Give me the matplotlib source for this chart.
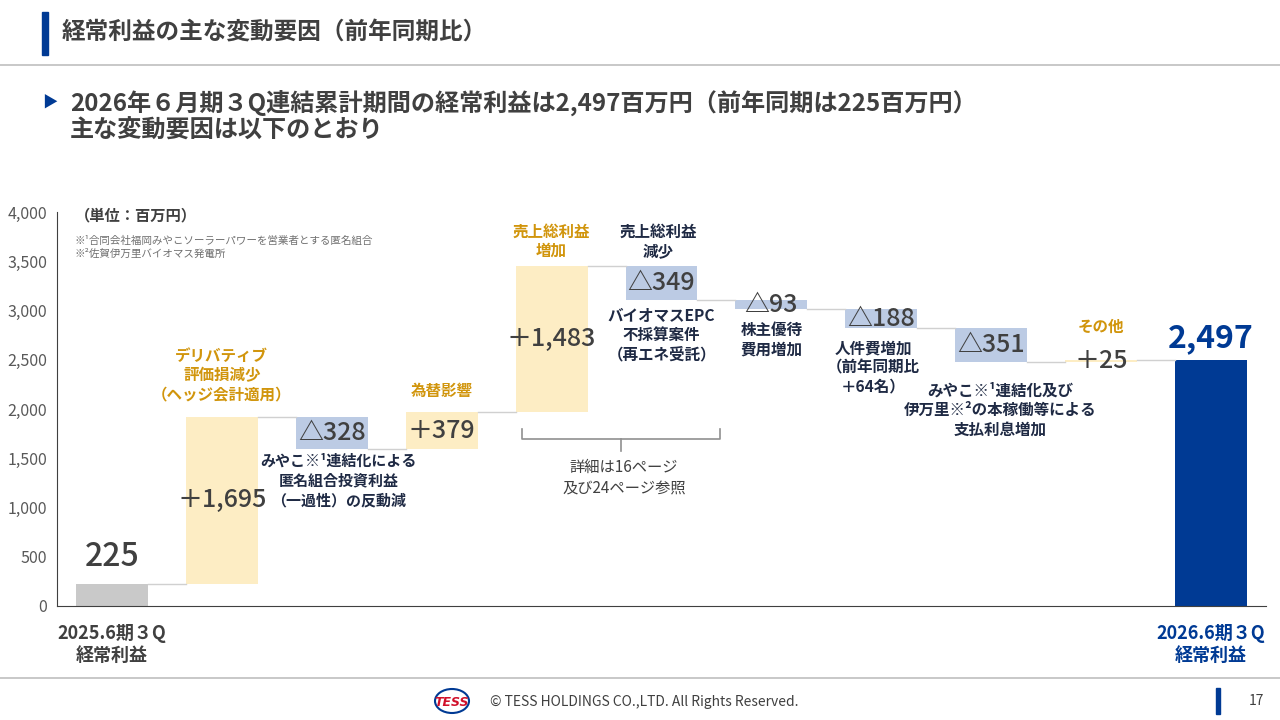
import numpy as np
import matplotlib
matplotlib.use("Agg")
import matplotlib.pyplot as plt
from matplotlib.patches import Rectangle, Ellipse

plt.rcParams['font.family'] = ['Noto Sans CJK JP', 'DejaVu Sans']

# data (百万円)
start_value = 225
deltas = [1695, -328, 379, 1483, -349, -93, -188, -351, 25]
end_value = 2497
value_labels = ['225', '＋1,695', '△328', '＋379', '＋1,483', '△349', '△93', '△188', '△351', '＋25', '2,497']
yticks = [0, 500, 1000, 1500, 2000, 2500, 3000, 3500, 4000]
xlabels = ['2025.6期３Q\n経常利益', '2026.6期３Q\n経常利益']

GRAY = '#c9c9c9'
UP = '#fdedc4'
DOWN = '#bccbe4'
BLUE = '#003a94'
DARK = '#404040'
NAVY = '#1f2a44'
GOLD = '#d1950c'

fig = plt.figure(figsize=(12.8, 7.2), dpi=100)
ax = fig.add_axes([57 / 1280, 1 - 606 / 720, (1266 - 57) / 1280, 394 / 720])

levels = np.concatenate([[start_value], start_value + np.cumsum(deltas)])
n = len(deltas) + 2
x = np.arange(n)
w = 0.655

# start / end bars
ax.bar(x[0], start_value, width=w, color=GRAY)
ax.bar(x[-1], end_value, width=w, color=BLUE)
# floating bars
for i, d in enumerate(deltas):
    lo = levels[i] if d > 0 else levels[i + 1]
    ax.bar(x[i + 1], abs(d), bottom=lo, width=w, color=UP if d > 0 else DOWN)
# connectors
for i in range(n - 1):
    ax.plot([x[i] + w / 2, x[i + 1] - w / 2], [levels[min(i, len(levels) - 1)]] * 2,
            color='#d0d0d0', lw=1)

# value labels
ax.text(x[0], start_value + 110, value_labels[0], ha='center', va='bottom',
        fontsize=23, color=DARK, fontweight='medium')
ax.text(x[-1], end_value + 60, value_labels[-1], ha='center', va='bottom',
        fontsize=23, color=BLUE, fontweight='bold')
for i, d in enumerate(deltas):
    mid = (levels[i] + levels[i + 1]) / 2
    ax.text(x[i + 1], mid, value_labels[i + 1], ha='center', va='center',
            fontsize=18, color=DARK, fontweight='medium')

ax.set_xlim(-0.5, n - 0.5)
ax.set_ylim(0, 4000)
ax.set_yticks(yticks)
ax.set_yticklabels([f'{v:,}' for v in yticks], fontsize=11.5, color='#595959')
ax.tick_params(axis='y', length=0, pad=7)
ax.set_xticks([])
for s in ['top', 'right']:
    ax.spines[s].set_visible(False)
ax.spines['left'].set_color('#404040')
ax.spines['bottom'].set_color('#404040')

# x category labels under start/end
ax.text(x[0], -180, xlabels[0], ha='center', va='top', fontsize=13,
        color=DARK, fontweight='bold', linespacing=1.2)
ax.text(x[-1], -180, xlabels[1], ha='center', va='top', fontsize=13,
        color=BLUE, fontweight='bold', linespacing=1.2)

# unit & notes
ax.text(-0.34, 3960, '（単位：百万円）', fontsize=11, color=DARK, fontweight='bold', va='center')
ax.text(-0.34, 3640, '※¹合同会社福岡みやこソーラーパワーを営業者とする匿名組合\n※²佐賀伊万里バイオマス発電所',
        fontsize=7.6, color='#707070', va='center', linespacing=1.3)

# annotations
ann = dict(ha='center', va='center', fontsize=11.2, fontweight='bold', linespacing=1.25)
ax.text(1, 2340, 'デリバティブ\n評価損減少\n（ヘッジ会計適用）', color=GOLD, **ann)
ax.text(2.06, 1270, 'みやこ※¹連結化による\n匿名組合投資利益\n（一過性）の反動減', color=NAVY,
        ha='center', va='center', fontsize=10.8, fontweight='bold', linespacing=1.3)
ax.text(3, 2185, '為替影響', color=GOLD, **ann)
ax.text(4, 3700, '売上総利益\n増加', color=GOLD, **ann)
ax.text(4.97, 3700, '売上総利益\n減少', color=NAVY, **ann)
ax.text(5, 2750, 'バイオマスEPC\n不採算案件\n（再エネ受託）', color=NAVY, **ann)
ax.text(6, 2700, '株主優待\n費用増加', color=NAVY, **ann)
ax.text(6.93, 2420, '人件費増加\n（前年同期比\n＋64名）', color=NAVY, **ann)
ax.text(8.08, 1990, 'みやこ※¹連結化及び\n伊万里※²の本稼働等による\n支払利息増加', color=NAVY, **ann)
ax.text(9, 2830, 'その他', color=GOLD, **ann)

# brace under gross profit items
bx0, bx1, by = 3.73, 5.53, 1800
bm = (bx0 + bx1) / 2
ax.plot([bx0, bx0, bx1, bx1], [by, by - 100, by - 100, by], color='#909090', lw=1.2)
ax.plot([bm, bm], [by - 100, by - 230], color='#909090', lw=1.2)
ax.text(bm + 0.03, 1300, '詳細は16ページ\n及び24ページ参照', ha='center', va='center',
        fontsize=11, color=DARK, linespacing=1.3)

# header
fig.add_artist(Rectangle((42 / 1280, 1 - 55 / 720), 6 / 1280, 43 / 720,
                         transform=fig.transFigure, color=BLUE))
fig.text(62 / 1280, 1 - 33 / 720, '経常利益の主な変動要因（前年同期比）', fontsize=17,
         color=DARK, fontweight='bold', va='center')
fig.add_artist(plt.Line2D([0, 1], [1 - 65 / 720] * 2, color='#bfbfbf', lw=1.2))
fig.text(42 / 1280, 1 - 103 / 720, '▶', fontsize=11, color=BLUE, va='center')
fig.text(70 / 1280, 1 - 103 / 720,
         '2026年６月期３Q連結累計期間の経常利益は2,497百万円（前年同期は225百万円）',
         fontsize=17.4, color=DARK, fontweight='bold', va='center')
fig.text(70 / 1280, 1 - 131 / 720, '主な変動要因は以下のとおり',
         fontsize=17.4, color=DARK, fontweight='bold', va='center')

# footer
fig.add_artist(plt.Line2D([0, 1], [1 - 678 / 720] * 2, color='#bfbfbf', lw=1.2))
fig.add_artist(Ellipse((452 / 1280, 1 - 701 / 720), 34 / 1280, 24 / 720, angle=0,
                       transform=fig.transFigure, fill=False, ec=BLUE, lw=1.5))
fig.text(452 / 1280, 1 - 702 / 720, 'TESS', fontsize=9, color='#d0102a',
         fontweight='bold', fontstyle='italic', ha='center', va='center', family='DejaVu Sans')
fig.text(490 / 1280, 1 - 702 / 720, '© TESS HOLDINGS CO.,LTD. All Rights Reserved.',
         fontsize=10, color='#404040', va='center')
fig.add_artist(Rectangle((1216 / 1280, 1 - 714 / 720), 4 / 1280, 26 / 720,
                         transform=fig.transFigure, color=BLUE))
fig.text(1256 / 1280, 1 - 701 / 720, '17', fontsize=10, color='#404040',
         ha='center', va='center')

fig.savefig('out.png', dpi=100)
